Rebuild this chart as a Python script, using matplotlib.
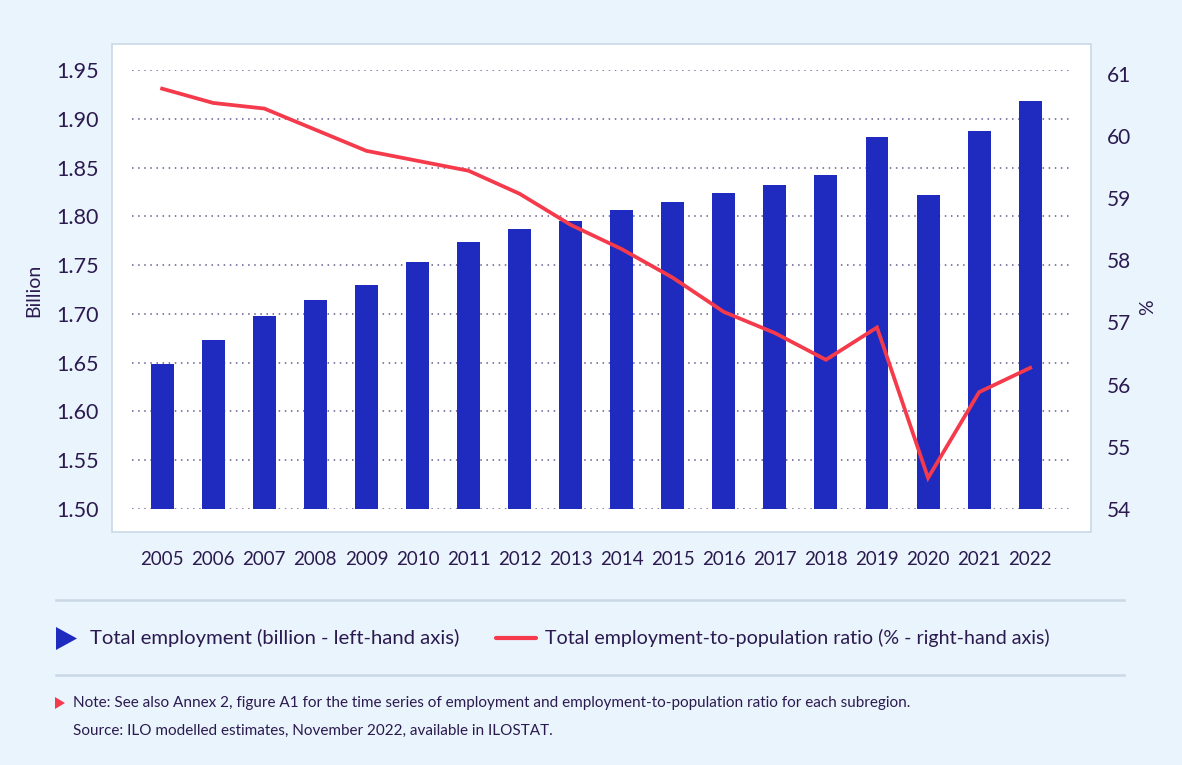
import matplotlib.pyplot as plt
from matplotlib.patches import Rectangle, Polygon
from matplotlib.lines import Line2D

years = ['2005', '2006', '2007', '2008', '2009', '2010', '2011', '2012', '2013',
         '2014', '2015', '2016', '2017', '2018', '2019', '2020', '2021', '2022']
employment = [1.649, 1.673, 1.698, 1.714, 1.730, 1.753, 1.774, 1.787, 1.795,
              1.807, 1.815, 1.824, 1.832, 1.842, 1.881, 1.822, 1.887, 1.918]
emp_ratio = [60.76, 60.53, 60.44, 60.10, 59.76, 59.60, 59.44, 59.07, 58.57,
             58.18, 57.72, 57.17, 56.83, 56.40, 56.92, 54.50, 55.88, 56.27]
left_ticks = [1.50, 1.55, 1.60, 1.65, 1.70, 1.75, 1.80, 1.85, 1.90, 1.95]
right_ticks = [54, 55, 56, 57, 58, 59, 60, 61]

BG = '#EAF4FD'
TEXT = '#2B1A4F'
BLUE = '#1F2BBE'
RED = '#F53A4B'
RULE = '#CAD8E6'
FONT = 'Lato'

W, H = 1182, 765
plt.rcParams['font.family'] = [FONT, 'DejaVu Sans']

fig = plt.figure(figsize=(W / 100, H / 100), dpi=100, facecolor=BG)


def fx(px):
    return px / W


def fy(py):
    return 1 - py / H


# white chart panel, kept underneath the axes
fig.patches.append(Rectangle((fx(112), fy(532)), fx(1091 - 112), (532 - 44) / H,
                             transform=fig.transFigure, facecolor='white',
                             edgecolor=RULE, linewidth=1.2, zorder=-10))

ax = fig.add_axes([fx(132), fy(509), fx(1069 - 132), (509 - 70) / H])
ax.patch.set_visible(False)
x = list(range(len(years)))
ax.bar(x, employment, width=0.45, color=BLUE, zorder=2)
ax.set_ylim(1.50, 1.95)
ax.set_xlim(-0.59, 17.76)
ax.set_yticks(left_ticks)
ax.set_yticklabels([f'{v:.2f}' for v in left_ticks])
ax.set_xticks(x)
ax.set_xticklabels(years)
ax.yaxis.grid(True, linestyle=(0, (1, 3)), color='#6A5A90', linewidth=1.1)
ax.set_axisbelow(True)
for s in ax.spines.values():
    s.set_visible(False)
ax.tick_params(axis='y', length=0, pad=24, labelsize=15.5, labelcolor=TEXT)
ax.tick_params(axis='x', length=0, pad=30, labelsize=13.5, labelcolor=TEXT)

ax2 = ax.twinx()
ax2.plot(x, emp_ratio, color=RED, linewidth=2.7, solid_joinstyle='miter', zorder=3)
ax2.set_ylim(54, 61.06)
ax2.set_yticks(right_ticks)
for s in ax2.spines.values():
    s.set_visible(False)
ax2.tick_params(axis='y', length=0, pad=27, labelsize=15, labelcolor=TEXT)

fig.text(fx(34), fy(290), 'Billion', rotation=90, ha='center', va='center',
         fontsize=14, color=TEXT)
fig.text(fx(1148), fy(307), '%', rotation=90, ha='center', va='center',
         fontsize=14, color=TEXT)

# legend strip between two rules
for yy in (600, 675):
    fig.add_artist(Line2D([fx(56), fx(1124)], [fy(yy), fy(yy)], color=RULE,
                          linewidth=1.8, transform=fig.transFigure))
fig.add_artist(Polygon([(fx(56), fy(627)), (fx(56), fy(650)), (fx(77), fy(638.5))],
                       closed=True, facecolor=BLUE, edgecolor='none',
                       transform=fig.transFigure))
fig.text(fx(90), fy(638), 'Total employment (billion - left-hand axis)',
         ha='left', va='center', fontsize=14.6, color=TEXT)
fig.add_artist(Line2D([fx(496), fx(536)], [fy(638), fy(638)], color=RED,
                      linewidth=3, solid_capstyle='round', transform=fig.transFigure))
fig.text(fx(545), fy(638), 'Total employment-to-population ratio (% - right-hand axis)',
         ha='left', va='center', fontsize=14.1, color=TEXT)

# note and source
fig.add_artist(Polygon([(fx(55), fy(697)), (fx(55), fy(709)), (fx(65), fy(703))],
                       closed=True, facecolor=RED, edgecolor='none',
                       transform=fig.transFigure))
fig.text(fx(73), fy(703), 'Note: See also Annex 2, figure A1 for the time series of employment '
         'and employment-to-population ratio for each subregion.',
         ha='left', va='center', fontsize=11, color=TEXT)
fig.text(fx(73), fy(731), 'Source: ILO modelled estimates, November 2022, available in ILOSTAT.',
         ha='left', va='center', fontsize=11, color=TEXT)

fig.savefig('out.png', dpi=100, facecolor=BG)
